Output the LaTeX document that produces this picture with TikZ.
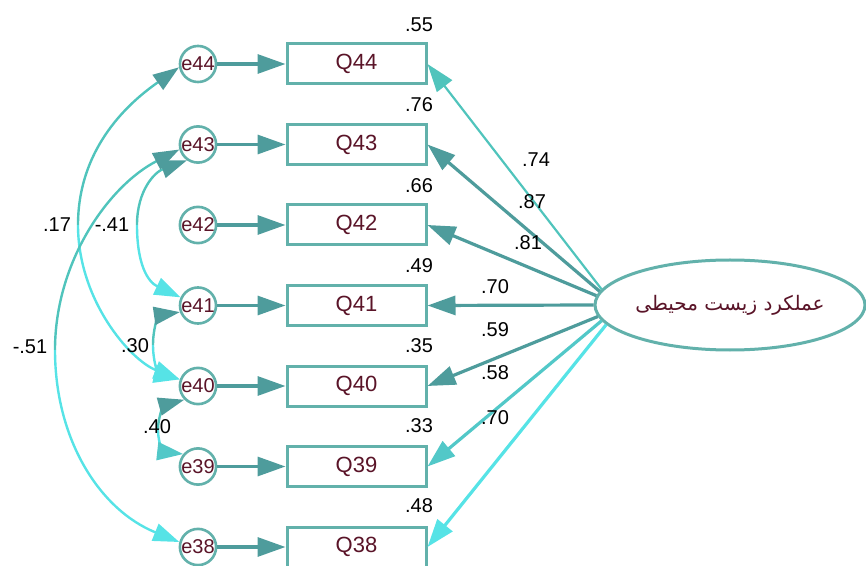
\documentclass[tikz,border=0pt]{standalone}
\usepackage{fontspec}
\setmainfont{Liberation Sans}
\newfontfamily\arabicfont[Script=Arabic]{DejaVu Sans}
\TeXXeTstate=1
\usetikzlibrary{arrows.meta,shapes.geometric}

\definecolor{bord}{HTML}{62B1AB}
\definecolor{tdark}{HTML}{4E9C9C}
\definecolor{tmid}{HTML}{50C4BC}
\definecolor{tlight}{HTML}{52C8C8}
\definecolor{cyanL}{HTML}{56E3E6}
\definecolor{txtc}{HTML}{5A1428}

\tikzset{
  lblfont/.style={font=\fontsize{10}{12}\selectfont},
  nodefont/.style={font=\fontsize{11}{13}\selectfont},
  errc/.style={circle, draw=bord, line width=1.3pt, minimum size=18pt,
    inner sep=0pt, fill=white, text=txtc, lblfont},
  obsbox/.style={rectangle, draw=bord, line width=1.5pt, minimum width=69.5pt,
    minimum height=20pt, inner sep=0pt, fill=white, text=txtc, nodefont},
  latent/.style={ellipse, draw=bord, line width=1.5pt, minimum width=135pt,
    minimum height=45pt, inner sep=0pt, fill=white, text=txtc},
  lbl/.style={inner sep=0pt, text=black, lblfont},
  pathto/.style={line width=1.6pt, draw=#1,
    -{Triangle[length=14pt,width=9.5pt,color=#1]}},
  covhalf/.style 2 args={line width=1.2pt, draw=#1,
    -{Triangle[length=13pt,width=9pt,color=#2]}},
}

\begin{document}
\begin{tikzpicture}[x=0.5pt, y=-0.5pt]
\useasboundingbox (0,0) rectangle (866,566);

% latent variable
\node[latent] (lat) at (730,305)
  {\arabicfont\fontsize{10}{12}\selectfont\beginR عملکرد زیست محیطی\endR};

% observed items, error terms and their paths
\foreach \n/\y in {44/64, 43/144.5, 42/225, 41/305.5, 40/386, 39/466.5, 38/547}{
  \node[obsbox] (Q\n) at (356.5,\y) {Q\n};
  \node[errc]   (e\n) at (198,\y) {e\n};
  \draw[pathto=tdark] (e\n) -- (Q\n);
}

% squared multiple correlations
\node[lbl] (r44) at (419,25)  {.55};
\node[lbl] (r43) at (419,105) {.76};
\node[lbl] (r42) at (419,186) {.66};
\node[lbl] (r41) at (419,266) {.49};
\node[lbl] (r40) at (419,346) {.35};
\node[lbl] (r39) at (419,426) {.33};
\node[lbl] (r38) at (419,506) {.48};

% factor loadings
\draw[pathto=tmid, line width=1.1pt] (lat.173) -- (Q44.east);
\draw[pathto=tdark] (lat.174) -- (Q43.east);
\draw[pathto=tdark] (lat.176) -- (Q42.east);
\draw[pathto=tdark] (lat.west) -- (Q41.east);
\draw[pathto=tdark] (lat.185) -- (Q40.east);
\draw[pathto=tlight] (lat.187) -- (Q39.east);
\draw[pathto=cyanL] (lat.189) -- (Q38.east);

\node[lbl] (l44) at (536,160) {.74};
\node[lbl] (l43) at (532,202) {.87};
\node[lbl] (l42) at (528,243) {.81};
\node[lbl] (l41) at (495,287) {.70};
\node[lbl] (l40) at (495,330) {.59};
\node[lbl] (l39) at (495,373) {.58};
\node[lbl] (l38) at (495,418) {.70};

% error covariances, each drawn as two halves from a midpoint
\coordinate (m17) at (78,225);
\draw[covhalf={tmid}{tdark}] (m17) .. controls (78,140) and (140,95) .. (e44.190);
\draw[covhalf={cyanL}{cyanL}] (m17) .. controls (78,300) and (130,360) .. (e40.160);

\coordinate (m41) at (137,225);
\draw[covhalf={tmid}{tdark}] (m41) .. controls (137,190) and (155,172) .. (e43.235);
\draw[covhalf={cyanL}{cyanL}] (m41) .. controls (137,265) and (148,282) .. (e41.155);

\coordinate (m51) at (55,350);
\draw[covhalf={tmid}{tdark}] (m51) .. controls (55,260) and (110,185) .. (e43.195);
\draw[covhalf={cyanL}{cyanL}] (m51) .. controls (55,440) and (100,510) .. (e38.165);

\coordinate (m30) at (153,345);
\draw[covhalf={tmid}{tdark}] (m30) .. controls (153,325) and (160,315) .. (e41.200);
\draw[covhalf={cyanL}{cyanL}] (m30) .. controls (153,365) and (160,375) .. (e40.160);

\coordinate (m40) at (158,430);
\draw[covhalf={tmid}{tdark}] (m40) .. controls (158,415) and (165,405) .. (e40.225);
\draw[covhalf={cyanL}{tlight}] (m40) .. controls (158,445) and (165,452) .. (e39.140);

\node[lbl] (c17) at (57,225)  {.17};
\node[lbl] (c41) at (112,225) {-.41};
\node[lbl] (c51) at (30,347)  {-.51};
\node[lbl] (c30) at (135,346) {.30};
\node[lbl] (c40) at (157,427) {.40};
\end{tikzpicture}
\end{document}
